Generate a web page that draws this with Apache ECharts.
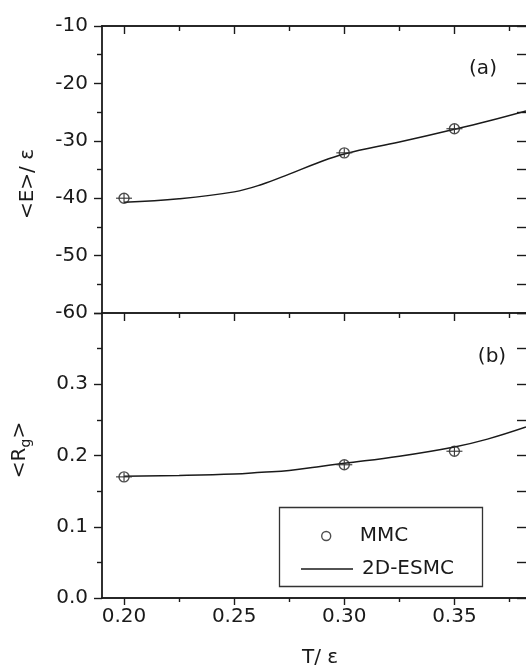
<!DOCTYPE html>
<html>
<head>
<meta charset="utf-8">
<script src="https://cdn.jsdelivr.net/npm/echarts@6/dist/echarts.min.js"></script>
<style>
  html, body { margin: 0; padding: 0; background: #fff; }
  #chart { width: 526px; height: 669px; }
</style>
</head>
<body>
<div id="chart"></div>
<script>
// MMC simulation points
const mmcT = [0.20, 0.30, 0.35];
const mmcEnergy = [-40.0, -32.1, -27.9];
const mmcRg = [0.170, 0.187, 0.206];

// 2D-ESMC curve, sampled off the figure
const esmcT = [0.20, 0.225, 0.25, 0.2625, 0.275, 0.2875, 0.30, 0.325, 0.35, 0.365, 0.3825];
const esmcEnergy = [-40.7, -40.1, -38.9, -37.6, -35.8, -33.9, -32.3, -30.2, -28.0, -26.6, -24.8];
const esmcRg = [0.171, 0.172, 0.174, 0.1765, 0.179, 0.184, 0.189, 0.199, 0.212, 0.223, 0.240];

// tick positions on the T axis
const xMajorTicks = [0.20, 0.25, 0.30, 0.35];
const xMinorTicks = [0.225, 0.275, 0.325, 0.375];

const INK = "#1a1a1a";
const FONT = "DejaVu Sans";
const X_MIN = 0.19, X_MAX = 0.3825;

const pairs = (xs, ys) => xs.map((x, i) => [x, ys[i]]);

function xAxisDef(grid, position, ticks, len, inside, withLabels) {
  return {
    type: "value", gridIndex: grid, position: position,
    min: X_MIN, max: X_MAX,
    axisLine: { show: true, onZero: false, lineStyle: { color: INK, width: 1.6 } },
    axisTick: { show: true, inside: inside, length: len, customValues: ticks,
                lineStyle: { color: INK, width: 1.4 } },
    axisLabel: withLabels ? {
      show: true, customValues: ticks, margin: 9,
      formatter: v => v.toFixed(2),
      color: INK, fontFamily: FONT, fontSize: 20
    } : { show: false },
    splitLine: { show: false }
  };
}

const chart = echarts.init(document.getElementById("chart"));

// horizontal error bar + cross drawn through each MMC point
function crossItem(params, api) {
  const p = api.coord([api.value(0), api.value(1)]);
  const st = { stroke: "#333", lineWidth: 1.1 };
  return {
    type: "group",
    children: [
      { type: "line", shape: { x1: p[0] - 8, y1: p[1], x2: p[0] + 8, y2: p[1] }, style: st },
      { type: "line", shape: { x1: p[0], y1: p[1] - 4.5, x2: p[0], y2: p[1] + 4.5 }, style: st }
    ]
  };
}

const markerStyle = { color: "rgba(255,255,255,0)", borderColor: "#222", borderWidth: 1.4 };

chart.setOption({
  animation: false,
  backgroundColor: "#fff",
  textStyle: { fontFamily: FONT, color: INK },
  grid: [
    { left: 102, top: 26, width: 427, height: 287 },
    { left: 102, top: 313, width: 427, height: 285 }
  ],
  xAxis: [
    xAxisDef(0, "top", xMajorTicks, 8, true, false),
    xAxisDef(0, "top", xMinorTicks, 5, true, false),
    Object.assign(xAxisDef(1, "bottom", xMajorTicks, 7, false, true), {
      name: "T/ ε", nameLocation: "middle", nameGap: 50,
      nameTextStyle: { fontFamily: FONT, fontSize: 20, color: INK, padding: [0, 0, 0, 12] }
    }),
    xAxisDef(1, "bottom", xMinorTicks, 4, false, false),
    xAxisDef(1, "top", xMajorTicks, 8, true, false),
    xAxisDef(1, "top", xMinorTicks, 5, true, false)
  ],
  yAxis: [
    {
      type: "value", gridIndex: 0, position: "left",
      min: -60, max: -10, interval: 10,
      axisLine: { show: true, lineStyle: { color: INK, width: 1.8 } },
      axisTick: { show: true, inside: false, length: 8, lineStyle: { color: INK, width: 1.4 } },
      minorTick: { show: true, splitNumber: 2, length: 5, lineStyle: { color: INK, width: 1.4 } },
      axisLabel: { margin: 14, color: INK, fontFamily: FONT, fontSize: 20 },
      splitLine: { show: false }
    },
    {
      type: "value", gridIndex: 0, position: "right",
      min: -60, max: -10, interval: 5,
      axisLine: { show: false },
      axisTick: { show: true, inside: true, length: 9, lineStyle: { color: INK, width: 1.4 } },
      axisLabel: { show: false },
      splitLine: { show: false }
    },
    {
      type: "value", gridIndex: 1, position: "left",
      min: 0, max: 0.4, interval: 0.1,
      axisLine: { show: true, lineStyle: { color: INK, width: 1.8 } },
      axisTick: { show: true, inside: false, length: 8, lineStyle: { color: INK, width: 1.4 } },
      minorTick: { show: true, splitNumber: 2, length: 5, lineStyle: { color: INK, width: 1.4 } },
      axisLabel: {
        margin: 14, color: INK, fontFamily: FONT, fontSize: 20,
        formatter: v => (Math.abs(v - 0.4) < 1e-9 ? "" : v.toFixed(1))
      },
      splitLine: { show: false }
    },
    {
      type: "value", gridIndex: 1, position: "right",
      min: 0, max: 0.4, interval: 0.05,
      axisLine: { show: false },
      axisTick: { show: true, inside: true, length: 9, lineStyle: { color: INK, width: 1.4 } },
      axisLabel: { show: false },
      splitLine: { show: false }
    }
  ],
  legend: [
    {
      data: [{ name: "MMC", icon: "circle", itemStyle: markerStyle }],
      left: 316, top: 521, orient: "vertical",
      itemWidth: 9, itemHeight: 9,
      textStyle: { fontFamily: FONT, fontSize: 20, color: INK, padding: [0, 0, 0, 24] }
    },
    {
      data: [{ name: "2D-ESMC", icon: "rect", itemStyle: { color: INK } }],
      left: 296, top: 554, orient: "vertical",
      itemWidth: 52, itemHeight: 1.4,
      textStyle: { fontFamily: FONT, fontSize: 20, color: INK, padding: [0, 0, 0, 4] }
    }
  ],
  graphic: [
    { type: "rect", shape: { x: 279.5, y: 507.5, width: 203, height: 79 },
      style: { fill: "none", stroke: "#333", lineWidth: 1.3 }, z: 10 },
    { type: "text", x: 483, y: 69,
      style: { text: "(a)", font: "20px " + FONT, fill: INK, textAlign: "center", textVerticalAlign: "middle" } },
    { type: "text", x: 492, y: 357,
      style: { text: "(b)", font: "20px " + FONT, fill: INK, textAlign: "center", textVerticalAlign: "middle" } },
    { type: "text", x: 28, y: 184, rotation: Math.PI / 2,
      style: { text: "<E>/ ε", font: "20px " + FONT, fill: INK, textAlign: "center", textVerticalAlign: "middle" } },
    { type: "text", x: 20, y: 450, rotation: Math.PI / 2,
      style: {
        text: "{m|<R}{s|g}{m|>}", textAlign: "center", textVerticalAlign: "middle",
        rich: {
          m: { fontFamily: FONT, fontSize: 20, fill: INK, lineHeight: 22 },
          s: { fontFamily: FONT, fontSize: 14, fill: INK, padding: [12, 0, 0, 0] }
        }
      } }
  ],
  series: [
    {
      name: "2D-ESMC", type: "line", xAxisIndex: 0, yAxisIndex: 0,
      data: pairs(esmcT, esmcEnergy), smooth: 0.4, symbol: "none", showSymbol: false,
      color: INK, lineStyle: { color: INK, width: 1.5 }, z: 3
    },
    {
      name: "2D-ESMC", type: "line", xAxisIndex: 2, yAxisIndex: 2,
      data: pairs(esmcT, esmcRg), smooth: 0.4, symbol: "none", showSymbol: false,
      color: INK, lineStyle: { color: INK, width: 1.5 }, z: 3
    },
    {
      name: "MMC", type: "scatter", xAxisIndex: 0, yAxisIndex: 0,
      data: pairs(mmcT, mmcEnergy), symbol: "circle", symbolSize: 10,
      itemStyle: markerStyle, z: 4
    },
    {
      name: "MMC", type: "scatter", xAxisIndex: 2, yAxisIndex: 2,
      data: pairs(mmcT, mmcRg), symbol: "circle", symbolSize: 10,
      itemStyle: markerStyle, z: 4
    },
    {
      name: "barsA", type: "custom", xAxisIndex: 0, yAxisIndex: 0,
      data: pairs(mmcT, mmcEnergy), renderItem: crossItem, silent: true, z: 5
    },
    {
      name: "barsB", type: "custom", xAxisIndex: 2, yAxisIndex: 2,
      data: pairs(mmcT, mmcRg), renderItem: crossItem, silent: true, z: 5
    }
  ]
});
</script>
</body>
</html>
